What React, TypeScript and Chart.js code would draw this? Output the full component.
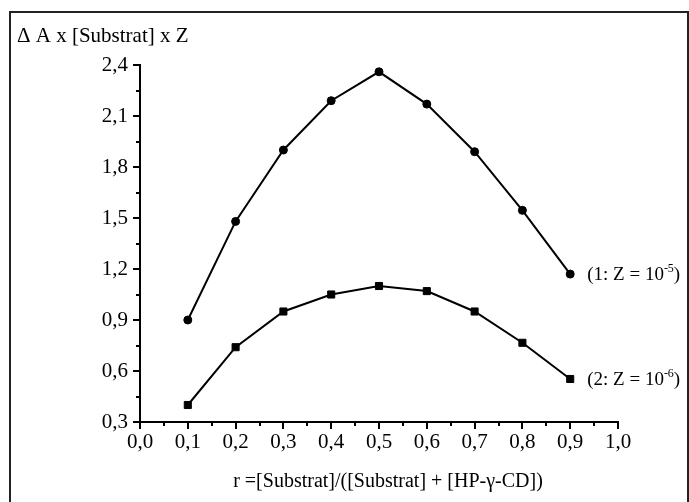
import React, { useEffect, useRef } from 'react';
import { Chart, registerables } from 'chart.js';

Chart.register(...registerables);

const ratios = [0.1, 0.2, 0.3, 0.4, 0.5, 0.6, 0.7, 0.8, 0.9];
const series1 = [0.9, 1.48, 1.9, 2.19, 2.36, 2.17, 1.89, 1.545, 1.17];
const series2 = [0.4, 0.74, 0.95, 1.05, 1.1, 1.07, 0.95, 0.766, 0.553];
const seriesNames = ['(1: Z = 10', '(2: Z = 10'];
const seriesExponents = ['-5', '-6'];
const xTickLabels = ['0,0', '0,1', '0,2', '0,3', '0,4', '0,5', '0,6', '0,7', '0,8', '0,9', '1,0'];
const yTickLabels = ['0,3', '0,6', '0,9', '1,2', '1,5', '1,8', '2,1', '2,4'];
const yAxisTitle = 'Δ A x [Substrat] x Z';
const xAxisTitle = 'r =[Substrat]/([Substrat] + [HP-γ-CD])';

const FONT = '"Liberation Serif", "Times New Roman", serif';

const decorPlugin = {
  id: 'decor',
  afterDraw(chart: any) {
    const ctx = chart.ctx as CanvasRenderingContext2D;
    const { left, right, bottom } = chart.chartArea;
    const xs = chart.scales.x;
    const ys = chart.scales.y;
    ctx.save();
    ctx.strokeStyle = '#000';
    ctx.lineWidth = 2;
    ys.ticks.forEach((t: any) => {
      const k = Math.round(t.value * 100);
      const major = k % 30 === 0;
      const py = Math.round(ys.getPixelForValue(t.value));
      const len = major ? 7 : 4;
      ctx.beginPath();
      ctx.moveTo(left - len, py);
      ctx.lineTo(left, py);
      ctx.stroke();
    });
    xs.ticks.forEach((t: any) => {
      const k = Math.round(t.value * 100);
      const major = k % 10 === 0;
      const px = Math.round(xs.getPixelForValue(t.value));
      const len = major ? 7 : 4;
      ctx.beginPath();
      ctx.moveTo(px, bottom);
      ctx.lineTo(px, bottom + len);
      ctx.stroke();
    });

    ctx.fillStyle = '#000';
    ctx.textBaseline = 'alphabetic';
    // axis titles
    ctx.font = `21px ${FONT}`;
    ctx.textAlign = 'left';
    ctx.fillText(yAxisTitle, 17, 42);
    ctx.font = `20px ${FONT}`;
    ctx.textAlign = 'center';
    ctx.fillText(xAxisTitle, (left + right) / 2 + 9, 487);

    // series labels
    chart.data.datasets.forEach((ds: any, i: number) => {
      const meta = chart.getDatasetMeta(i);
      const last = meta.data[meta.data.length - 1];
      if (!last) return;
      let x = last.x + 17;
      const y = last.y + 6;
      ctx.textAlign = 'left';
      ctx.font = `19px ${FONT}`;
      ctx.fillText(seriesNames[i], x, y);
      x += ctx.measureText(seriesNames[i]).width;
      ctx.font = `12px ${FONT}`;
      ctx.fillText(seriesExponents[i], x, y - 8);
      x += ctx.measureText(seriesExponents[i]).width;
      ctx.font = `19px ${FONT}`;
      ctx.fillText(')', x, y);
    });
    ctx.restore();
  },
};

export default function App() {
  const ref = useRef<HTMLCanvasElement | null>(null);

  useEffect(() => {
    if (!ref.current) return;
    const chart = new Chart(ref.current, {
      type: 'line',
      data: {
        datasets: [
          {
            label: seriesNames[0],
            data: ratios.map((r, i) => ({ x: r, y: series1[i] })),
            borderColor: '#000',
            backgroundColor: '#000',
            borderWidth: 2,
            pointStyle: 'circle',
            pointRadius: 4,
            pointBorderWidth: 1,
            tension: 0,
          },
          {
            label: seriesNames[1],
            data: ratios.map((r, i) => ({ x: r, y: series2[i] })),
            borderColor: '#000',
            backgroundColor: '#000',
            borderWidth: 2,
            pointStyle: 'rect',
            pointRadius: 5,
            pointBorderWidth: 1,
            tension: 0,
          },
        ],
      },
      options: {
        animation: false,
        responsive: false,
        devicePixelRatio: 1,
        layout: { padding: { left: 0, right: 71, top: 65, bottom: 0 } },
        plugins: {
          legend: { display: false },
          tooltip: { enabled: false },
          title: { display: false },
        },
        scales: {
          x: {
            type: 'linear',
            min: 0,
            max: 1,
            ticks: {
              stepSize: 0.05,
              autoSkip: false,
              maxRotation: 0,
              padding: 1,
              color: '#000',
              font: { family: FONT, size: 21 },
              callback: (v: any) => {
                const k = Math.round(Number(v) * 100);
                return k % 10 === 0 ? xTickLabels[k / 10] : '';
              },
            },
            grid: {
              drawOnChartArea: false,
              drawTicks: true,
              tickLength: 7,
              tickColor: 'transparent',
            },
            border: { display: true, color: '#000', width: 2 },
            afterFit: (scale: any) => {
              scale.height = 80;
            },
          },
          y: {
            type: 'linear',
            min: 0.3,
            max: 2.4,
            ticks: {
              stepSize: 0.15,
              autoSkip: false,
              padding: 5,
              color: '#000',
              font: { family: FONT, size: 21 },
              callback: (v: any) => {
                const k = Math.round(Number(v) * 100);
                return k % 30 === 0 ? yTickLabels[(k - 30) / 30] : '';
              },
            },
            grid: {
              drawOnChartArea: false,
              drawTicks: true,
              tickLength: 7,
              tickColor: 'transparent',
            },
            border: { display: true, color: '#000', width: 2 },
            afterFit: (scale: any) => {
              scale.width = 140;
            },
          },
        },
      },
      plugins: [decorPlugin],
    } as any);
    return () => chart.destroy();
  }, []);

  return (
    <div
      style={{
        position: 'fixed',
        left: 0,
        top: 0,
        width: 689,
        height: 502,
        overflow: 'hidden',
        background: '#fff',
      }}
    >
      <div
        style={{
          position: 'absolute',
          left: 9,
          top: 11,
          width: 680,
          height: 520,
          boxSizing: 'border-box',
          border: '2px solid #222',
        }}
      />
      <canvas
        ref={ref}
        width={689}
        height={502}
        style={{ position: 'absolute', left: 0, top: 0, width: 689, height: 502 }}
      />
    </div>
  );
}
